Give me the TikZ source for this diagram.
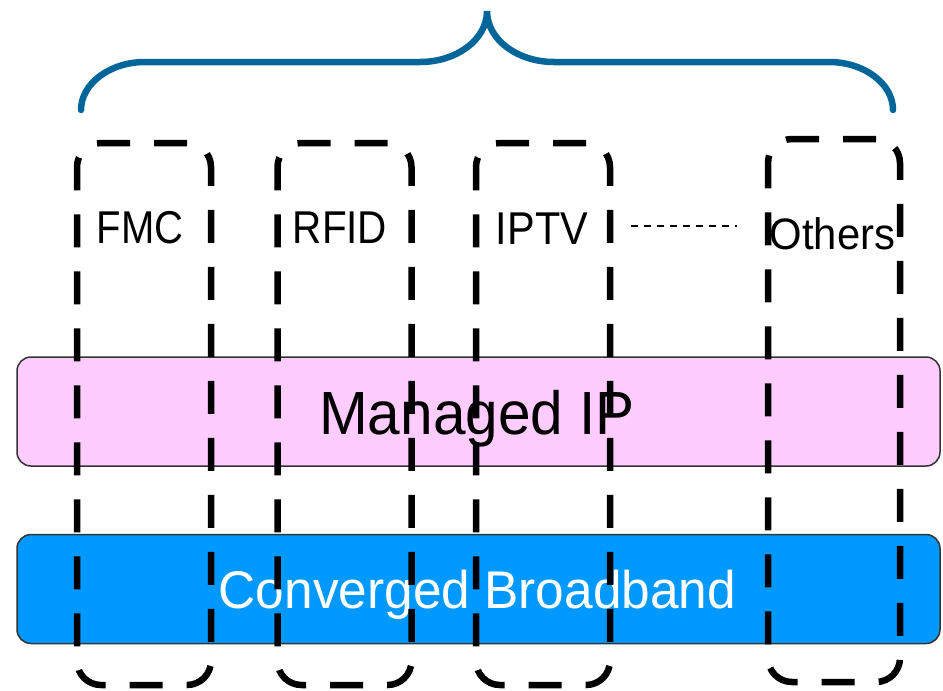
\documentclass[tikz,border=0pt]{standalone}
\usepackage{fontspec}
\setmainfont{Liberation Sans}
\usepackage{graphicx}
\definecolor{pinkbar}{HTML}{FFCCFF}
\definecolor{bluebar}{HTML}{0099FF}
\definecolor{bracecol}{HTML}{006699}
\definecolor{edgecol}{HTML}{333333}
\tikzset{
  bar/.style={draw=edgecol, line width=1.5pt, rounded corners=14pt, inner sep=0pt,
    minimum width=923pt, minimum height=109pt},
  colbox/.style={draw=black, line width=6.5pt, dash pattern=on 33pt off 24pt,
    rounded corners=24pt, inner sep=0pt, minimum width=134pt, minimum height=542pt},
  lbl/.style={inner sep=0pt, anchor=base},
}
\newcommand{\sq}[2]{\scalebox{#1}[1]{#2}}
\begin{document}
\begin{tikzpicture}[x=1pt,y=-1pt]
\useasboundingbox (0,0) rectangle (943,691);
% bars
\node[bar, fill=pinkbar] (managed) at (478.5,411.5) {};
\node[bar, fill=bluebar] (conv) at (478.5,589) {};
\node[lbl] (managedtxt) at (477,434) {\fontsize{61}{70}\selectfont\sq{0.96}{Managed IP}};
\node[lbl, text=white] (convtxt) at (477.5,608) {\fontsize{53}{60}\selectfont\sq{0.97}{Converged Broadband}};
% column labels
\node[lbl] (fmc) at (140,243) {\fontsize{46}{52}\selectfont\sq{0.87}{FMC}};
\node[lbl] (rfid) at (340,243) {\fontsize{46}{52}\selectfont\sq{0.88}{RFID}};
\node[lbl] (iptv) at (542,244) {\fontsize{46}{52}\selectfont\sq{0.9}{IPTV}};
\node[lbl] (others) at (832.5,249) {\fontsize{44}{50}\selectfont\sq{0.95}{Others}};
\coordinate (dl1) at (631,226);
\coordinate (dl2) at (737,226);
\draw[line width=1.5pt, dash pattern=on 7pt off 6pt] (dl1) -- (dl2);
% dashed columns
\node[colbox] (c1) at (144,414) {};
\node[colbox] (c2) at (344.5,414) {};
\node[colbox] (c3) at (543,414) {};
\node[colbox, minimum width=132pt, minimum height=543pt] (c4) at (834,410.5) {};
% brace
\draw[bracecol, line width=6.5pt, line cap=round]
  (81,110) .. controls (81,83.5) and (110,62) .. (145,62) -- (420,62)
  .. controls (456,62) and (487,40) .. (487,11)
  .. controls (487,40) and (518,62) .. (554,62) -- (829,62)
  .. controls (864,62) and (893,83.5) .. (893,110);
\end{tikzpicture}
\end{document}
